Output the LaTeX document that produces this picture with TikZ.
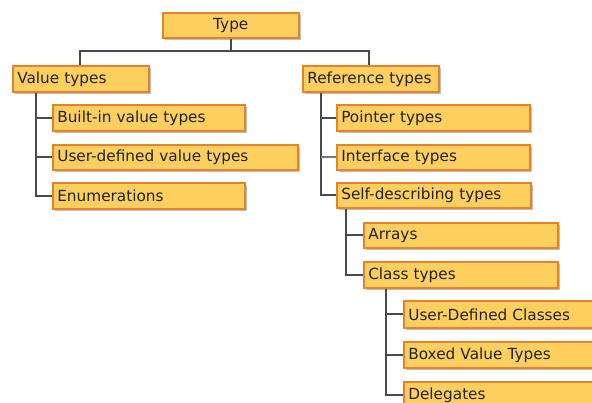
\documentclass[tikz,border=0pt]{standalone}
\usepackage{fontspec}
\setmainfont{DejaVu Sans}
\usetikzlibrary{shadows}
\definecolor{boxfill}{HTML}{FDCF5F}
\definecolor{boxline}{HTML}{E8822A}
\definecolor{conn}{HTML}{4A4A4A}
\definecolor{txt}{HTML}{222222}
\tikzset{
  tbox/.style={draw=boxline, line width=1.6pt, fill=boxfill, rectangle,
    inner xsep=4.5pt, inner ysep=0pt, anchor=north west, align=left,
    text=txt, font=\fontsize{15.3}{17}\selectfont,
    drop shadow={shadow xshift=2pt, shadow yshift=-2pt, opacity=0.25, fill=black}},
  conline/.style={draw=conn, line width=1.8pt},
  lightline/.style={draw=conn!75, line width=1.6pt}
}
\newcommand{\tb}[7][left]{\node[tbox, align=#1, text width=#5pt-9pt, minimum height=#6pt] (#2) at (#3,#4) {#7};}
\begin{document}
\begin{tikzpicture}[x=1pt,y=-1pt]
\useasboundingbox (0,0) rectangle (592,403);
\fill[white] (0,0) rectangle (592,403);
\clip (0,0) rectangle (592,403);
\tb[center]{type}{162}{12}{136}{25}{Type}
\tb{vt}{12}{65}{136}{26}{Value types}
\tb{rt}{302}{65}{136}{26}{Reference types}
\tb{bi}{52}{104}{192}{26}{Built-in value types}
\tb{ud}{52}{144}{245}{25}{User-defined value types}
\tb{en}{52}{182}{192}{26}{Enumerations}
\tb{pt}{336}{104}{193}{26}{Pointer types}
\tb{it}{336}{144}{193}{25}{Interface types}
\tb{sd}{336}{182}{194}{25}{Self-describing types}
\tb{ar}{363}{222}{194}{25}{Arrays}
\tb{ct}{363}{261}{194}{26}{Class types}
\tb{uc}{403}{300}{200}{27}{User-Defined Classes}
\tb{bv}{403}{341}{200}{26}{Boxed Value Types}
\tb{dl}{403}{381}{200}{26}{Delegates}
% connectors
\coordinate (bar) at (type.south |- 0,51);
\draw[conline] (type.south) -- (bar);
\draw[conline] ([xshift=68pt]vt.north west) |- (bar) -| ([xshift=67pt]rt.north west);
\foreach \c in {bi,ud,en}
  \draw[conline] ([xshift=24pt]vt.south west) |- (\c.west);
\foreach \c in {pt,sd}
  \draw[conline] ([xshift=19pt]rt.south west) |- (\c.west);
\coordinate (rtk) at ([xshift=19pt]rt.south west);
\draw[lightline] ([yshift=0.5pt]rtk |- it.west) -- ([yshift=0.5pt]it.west);
\foreach \c in {ar,ct}
  \draw[conline] ([xshift=10pt]sd.south west) |- (\c.west);
\foreach \c in {uc,bv,dl}
  \draw[conline] ([xshift=23pt]ct.south west) |- (\c.west);
\end{tikzpicture}
\end{document}
